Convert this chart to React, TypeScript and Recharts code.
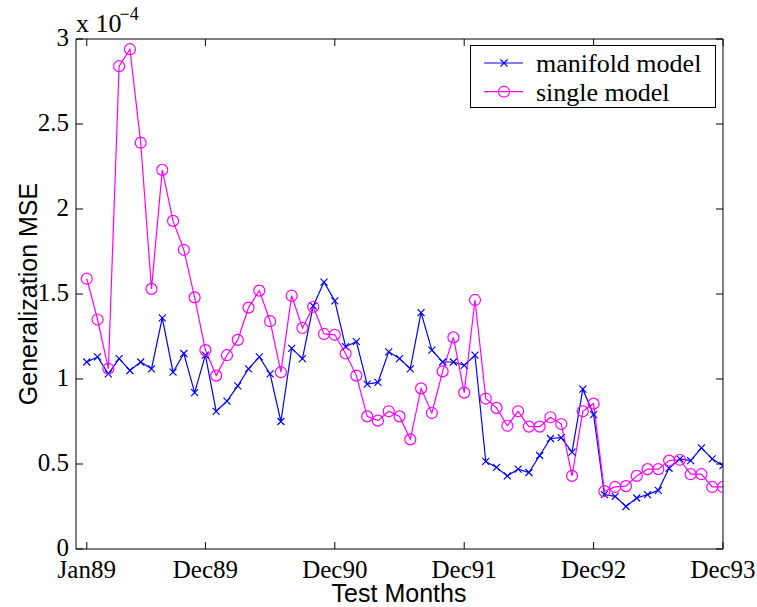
import React from "react";
import { LineChart, Line, XAxis, YAxis, Legend } from "recharts";

// month index 0 = Jan89 ... 59 = Dec93
const tickMonths = [0, 11, 23, 35, 47, 59];
const tickLabels = ["Jan89", "Dec89", "Dec90", "Dec91", "Dec92", "Dec93"];
const yTicks = [0, 0.5, 1, 1.5, 2, 2.5, 3];

// generalization MSE, units of 1e-4
const manifold = [
  1.1, 1.13, 1.03, 1.12, 1.05, 1.1, 1.06, 1.36, 1.04, 1.15,
  0.92, 1.14, 0.81, 0.87, 0.96, 1.06, 1.13, 1.03, 0.75, 1.18,
  1.12, 1.43, 1.57, 1.46, 1.19, 1.22, 0.97, 0.98, 1.16, 1.12,
  1.06, 1.39, 1.17, 1.1, 1.1, 1.08, 1.14, 0.515, 0.48, 0.43,
  0.47, 0.45, 0.55, 0.65, 0.655, 0.57, 0.94, 0.79, 0.32, 0.31,
  0.25, 0.3, 0.32, 0.345, 0.475, 0.53, 0.52, 0.595, 0.53, 0.49,
];
const single = [
  1.59, 1.35, 1.06, 2.84, 2.94, 2.39, 1.53, 2.23, 1.93, 1.76,
  1.48, 1.17, 1.02, 1.14, 1.23, 1.42, 1.52, 1.34, 1.04, 1.49,
  1.3, 1.425, 1.265, 1.26, 1.15, 1.02, 0.78, 0.755, 0.81, 0.78,
  0.645, 0.945, 0.8, 1.045, 1.245, 0.92, 1.465, 0.885, 0.83, 0.725,
  0.81, 0.72, 0.72, 0.775, 0.735, 0.43, 0.81, 0.855, 0.34, 0.365,
  0.37, 0.43, 0.47, 0.47, 0.52, 0.525, 0.44, 0.44, 0.365, 0.365,
];

const data = manifold.map((v, i) => ({ month: i, manifold: v, single: single[i] }));

const BLUE = "#0000ff";
const PINK = "#ff00ff";
const SERIF = "'Liberation Serif', 'Times New Roman', serif";
const SANS = "'Liberation Sans', Arial, sans-serif";
const TICK = 7;

const CrossDot = (p: any) => {
  const { cx, cy } = p;
  if (cx == null || cy == null) return null;
  const s = 3.5;
  return (
    <path
      key={p.key}
      d={`M${cx - s},${cy - s}L${cx + s},${cy + s}M${cx - s},${cy + s}L${cx + s},${cy - s}`}
      stroke={BLUE}
      strokeWidth={1.2}
      fill="none"
    />
  );
};

const CircleDot = (p: any) => {
  const { cx, cy } = p;
  if (cx == null || cy == null) return null;
  return <circle key={p.key} cx={cx} cy={cy} r={5.5} stroke={PINK} strokeWidth={1.2} fill="none" />;
};

const BottomTick = ({ x, y, payload }: any) => {
  const i = tickMonths.indexOf(payload.value);
  return (
    <g>
      <line x1={x} y1={y} x2={x} y2={y - TICK} stroke="#000" />
      <text x={x} y={y + 29} textAnchor="middle" fontFamily={SERIF} fontSize={25} fill="#000">
        {tickLabels[i]}
      </text>
    </g>
  );
};

const TopTick = ({ x, y }: any) => <line x1={x} y1={y} x2={x} y2={y + TICK} stroke="#000" />;

const LeftTick = ({ x, y, payload }: any) => (
  <g>
    <line x1={x} y1={y} x2={x + TICK} y2={y} stroke="#000" />
    <text x={x - 7} y={y + 7} textAnchor="end" fontFamily={SERIF} fontSize={25} fill="#000">
      {payload.value}
    </text>
  </g>
);

const RightTick = ({ x, y }: any) => <line x1={x} y1={y} x2={x - TICK} y2={y} stroke="#000" />;

const YTitle = () => (
  <text
    x={37}
    y={294}
    transform="rotate(-90, 37, 294)"
    textAnchor="middle"
    fontFamily={SANS}
    fontSize={25}
    fill="#000"
  >
    Generalization MSE
  </text>
);

const XTitle = () => (
  <text x={399} y={602} textAnchor="middle" fontFamily={SANS} fontSize={25} fill="#000">
    Test Months
  </text>
);

const ScaleNote = () => (
  <text x={76} y={32} fontFamily={SERIF} fontSize={26} fill="#000">
    x 10
    <tspan dx={-2} dy={-12} fontSize={18}>
      −4
    </tspan>
  </text>
);

const LegendBox = ({ payload }: any) => {
  const items = payload || [];
  return (
    <div style={{ width: 246, height: 63, border: "1.3px solid #000", boxSizing: "border-box", background: "#fff" }}>
      <svg width={244} height={61} style={{ display: "block" }}>
        {items.map((it: any, k: number) => {
          const y = 17 + k * 28.7;
          const c = it.color;
          return (
            <g key={it.value}>
              <line x1={13} y1={y} x2={52} y2={y} stroke={c} strokeWidth={1.2} />
              {it.dataKey === "manifold" ? (
                <CrossDot cx={33} cy={y} />
              ) : (
                <CircleDot cx={33} cy={y} />
              )}
              <text x={65} y={y + 9} fontFamily={SERIF} fontSize={26} fill="#000">
                {it.value}
              </text>
            </g>
          );
        })}
      </svg>
    </div>
  );
};

export default function App() {
  return (
    <div style={{ position: "absolute", left: 0, top: 0, width: 757, height: 607, background: "#fff" }}>
      <LineChart width={757} height={607} data={data} margin={{ top: 38, right: 33, bottom: 0, left: 0 }}>
        <XAxis
          dataKey="month"
          type="number"
          domain={[-1, 59]}
          ticks={tickMonths}
          allowDataOverflow
          height={58}
          tickSize={0}
          tickMargin={0}
          tick={<BottomTick />}
          stroke="#000"
          label={<XTitle />}
        />
        <XAxis
          xAxisId="top"
          orientation="top"
          dataKey="month"
          type="number"
          domain={[-1, 59]}
          ticks={tickMonths}
          allowDataOverflow
          height={1}
          tickSize={0}
          tickMargin={0}
          tick={<TopTick />}
          stroke="#000"
          label={<ScaleNote />}
        />
        <YAxis
          type="number"
          domain={[0, 3]}
          ticks={yTicks}
          allowDataOverflow
          width={76}
          tickSize={0}
          tickMargin={0}
          tick={<LeftTick />}
          stroke="#000"
          label={<YTitle />}
        />
        <YAxis
          yAxisId="right"
          orientation="right"
          type="number"
          domain={[0, 3]}
          ticks={yTicks}
          allowDataOverflow
          width={1}
          tickSize={0}
          tickMargin={0}
          tick={<RightTick />}
          stroke="#000"
        />
        <Legend
          layout="vertical"
          align="center"
          verticalAlign="middle"
          wrapperStyle={{ left: 470, top: 45, width: 246, height: 63 }}
          content={<LegendBox />}
        />
        <Line
          dataKey="manifold"
          name="manifold model"
          stroke={BLUE}
          strokeWidth={1.2}
          dot={<CrossDot />}
          activeDot={false}
          isAnimationActive={false}
        />
        <Line
          dataKey="single"
          name="single model"
          stroke={PINK}
          strokeWidth={1.2}
          dot={<CircleDot />}
          activeDot={false}
          isAnimationActive={false}
        />
      </LineChart>
    </div>
  );
}
